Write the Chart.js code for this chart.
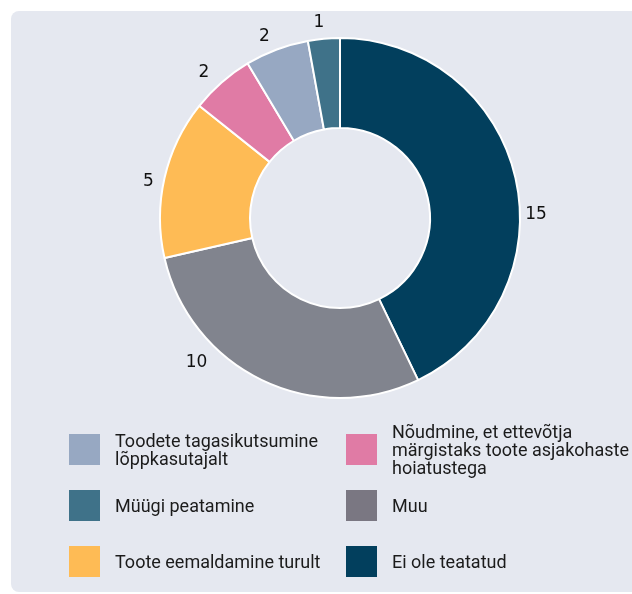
<!DOCTYPE html>
<html>
<head>
<meta charset="utf-8">
<script src="https://cdn.jsdelivr.net/npm/chart.js@4.4.1/dist/chart.umd.min.js"></script>
<style>
  html, body { margin: 0; padding: 0; background: #fff; width: 632px; height: 594px; overflow: hidden; }
  #panel { position: absolute; left: 11px; top: 11px; width: 640px; height: 581px; background: #e5e8f0; border-radius: 8px; }
  #wrap { position: absolute; left: 120px; top: 0; width: 440px; height: 436px; }
  #legend { position: absolute; left: 0; top: 0; width: 632px; height: 594px; pointer-events: none;
    font-family: Roboto, "Noto Sans", sans-serif; font-size: 18px; line-height: 18px; color: #1b1b1b; }
  .item { position: absolute; display: flex; align-items: center; }
  .box { width: 31px; height: 31px; flex: none; margin-right: 15px; }
</style>
</head>
<body>
<div id="panel"></div>
<div id="wrap"><canvas id="donut"></canvas></div>
<div id="legend"></div>
<script>
// données du graphique
const labels = [
  ['Ei ole teatatud'],
  ['Muu'],
  ['Toote eemaldamine turult'],
  ['Nõudmine, et ettevõtja', 'märgistaks toote asjakohaste', 'hoiatustega'],
  ['Toodete tagasikutsumine', 'lõppkasutajalt'],
  ['Müügi peatamine']
];
const values = [15, 10, 5, 2, 2, 1];
const colors = ['#023f5d', '#81848e', '#febb55', '#e07ba5', '#97a8c2', '#3f7289'];
const legendColors = ['#023f5d', '#7a7782', '#febb55', '#e07ba5', '#97a8c2', '#3f7289'];

// ordre de la légende (ligne par ligne, 2 colonnes)
const legendOrder = [4, 3, 5, 1, 2, 0];

// décalage des étiquettes de valeur (degrés, pixels)
const labelShift = [12, 19, -2, -2, -2, -1];
const labelGap = [16, 24, 15, 19, 17, 17];

const valueLabels = {
  id: 'valueLabels',
  afterDatasetsDraw(chart) {
    const ctx = chart.ctx;
    const meta = chart.getDatasetMeta(0);
    ctx.save();
    ctx.font = '17px "DejaVu Sans"';
    ctx.fillStyle = '#111';
    ctx.textAlign = 'center';
    ctx.textBaseline = 'middle';
    meta.data.forEach((arc, i) => {
      const p = arc.getProps(['x', 'y', 'startAngle', 'endAngle', 'outerRadius'], true);
      const a = (p.startAngle + p.endAngle) / 2 + labelShift[i] * Math.PI / 180;
      const r = p.outerRadius + labelGap[i];
      ctx.fillText(String(values[i]), p.x + Math.cos(a) * r, p.y + Math.sin(a) * r);
    });
    ctx.restore();
  }
};

const chart = new Chart(document.getElementById('donut'), {
  type: 'doughnut',
  data: {
    labels: labels,
    datasets: [{
      data: values,
      backgroundColor: colors,
      borderColor: '#ffffff',
      borderWidth: 2,
      radius: 180,
      cutout: '50%'
    }]
  },
  options: {
    responsive: true,
    maintainAspectRatio: false,
    animation: false,
    layout: { padding: 0 },
    plugins: {
      legend: { display: false },
      tooltip: { enabled: false }
    }
  },
  plugins: [valueLabels]
});

// Construire la légende HTML
const legend = document.getElementById('legend');
const colX = [69, 346];
const rowY = [434, 490, 546];
legendOrder.forEach((idx, k) => {
  const item = document.createElement('div');
  item.className = 'item';
  item.style.left = colX[k % 2] + 'px';
  item.style.top = rowY[Math.floor(k / 2)] + 'px';
  item.style.height = '31px';
  const box = document.createElement('div');
  box.className = 'box';
  box.style.background = legendColors[idx];
  const txt = document.createElement('div');
  txt.innerHTML = labels[idx].join('<br>');
  item.appendChild(box);
  item.appendChild(txt);
  legend.appendChild(item);
});
</script>
</body>
</html>
